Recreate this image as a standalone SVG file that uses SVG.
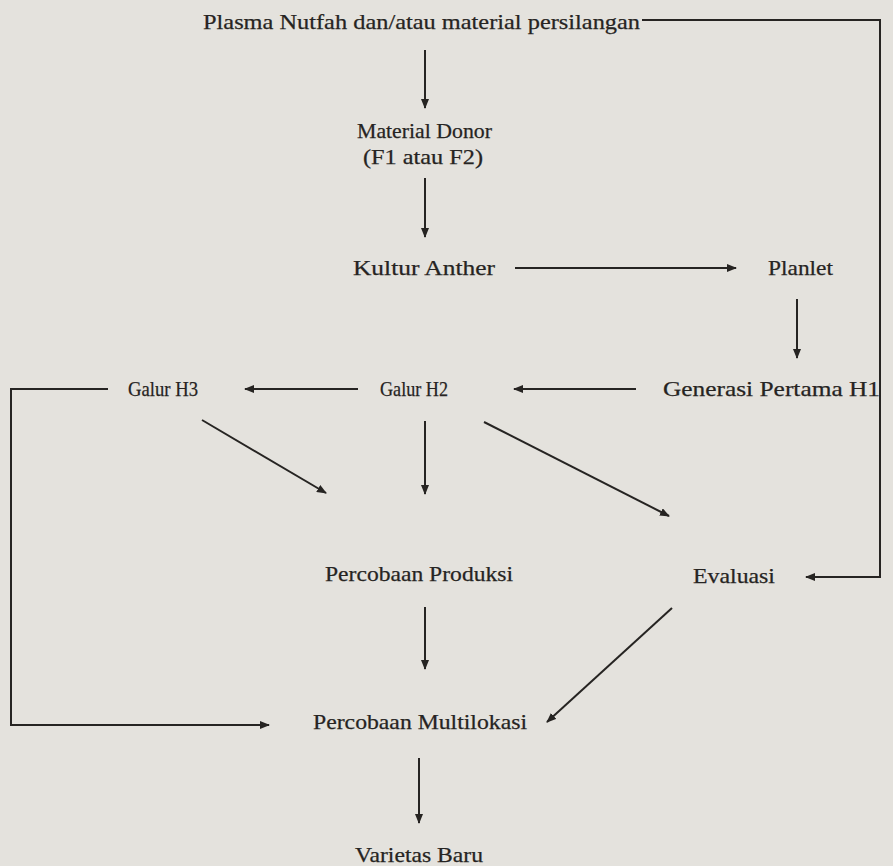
<svg xmlns="http://www.w3.org/2000/svg" width="893" height="866" viewBox="0 0 893 866">
<style>
.t{font-family:"Liberation Serif","Times New Roman",serif;font-size:22px;fill:#262422;stroke:#262422;stroke-width:0.25;}
.c{fill:none;stroke:#262422;stroke-width:2;}
</style>
<defs>
<marker id="ah" viewBox="0 0 10 8" refX="9" refY="4" markerWidth="10" markerHeight="8" markerUnits="userSpaceOnUse" orient="auto">
<path d="M0,0 L10,4 L0,8 Z" fill="#262422"/>
</marker>
</defs>
<rect width="893" height="866" fill="#e4e2dd"/>
<g id="connectors">
<path class="c" d="M642,20 H880 V577 H806" marker-end="url(#ah)"/>
<path class="c" d="M425,50 V108" marker-end="url(#ah)"/>
<path class="c" d="M425,178 V237" marker-end="url(#ah)"/>
<path class="c" d="M515,268 H736" marker-end="url(#ah)"/>
<path class="c" d="M797,299 V358" marker-end="url(#ah)"/>
<path class="c" d="M636,389 H514" marker-end="url(#ah)"/>
<path class="c" d="M358,389 H245" marker-end="url(#ah)"/>
<path class="c" d="M108,389 H11 V725 H269" marker-end="url(#ah)"/>
<path class="c" d="M202,420 L326,493" marker-end="url(#ah)"/>
<path class="c" d="M425,421 V494" marker-end="url(#ah)"/>
<path class="c" d="M484,422 L669,516" marker-end="url(#ah)"/>
<path class="c" d="M425,607 V669" marker-end="url(#ah)"/>
<path class="c" d="M672,608 L547,722" marker-end="url(#ah)"/>
<path class="c" d="M419,758 V823" marker-end="url(#ah)"/>
</g>
<g id="plasma"><text class="t" x="203" y="29" textLength="437" lengthAdjust="spacingAndGlyphs">Plasma Nutfah dan/atau material persilangan</text></g>
<g id="donor"><text class="t" x="357" y="138" textLength="135" lengthAdjust="spacingAndGlyphs">Material Donor</text><text class="t" x="363" y="164" textLength="120" lengthAdjust="spacingAndGlyphs">(F1 atau F2)</text></g>
<g id="kultur"><text class="t" x="353" y="275" textLength="142" lengthAdjust="spacingAndGlyphs">Kultur Anther</text></g>
<g id="planlet"><text class="t" x="768" y="275" textLength="65" lengthAdjust="spacingAndGlyphs">Planlet</text></g>
<g id="h3"><text class="t" x="128" y="396" textLength="70" lengthAdjust="spacingAndGlyphs">Galur H3</text></g>
<g id="h2"><text class="t" x="380" y="396" textLength="68" lengthAdjust="spacingAndGlyphs">Galur H2</text></g>
<g id="h1"><text class="t" x="663" y="396" textLength="217" lengthAdjust="spacingAndGlyphs">Generasi Pertama H1</text></g>
<g id="produksi"><text class="t" x="325" y="581" textLength="188" lengthAdjust="spacingAndGlyphs">Percobaan Produksi</text></g>
<g id="evaluasi"><text class="t" x="693" y="583" textLength="82" lengthAdjust="spacingAndGlyphs">Evaluasi</text></g>
<g id="multilokasi"><text class="t" x="313" y="729" textLength="214" lengthAdjust="spacingAndGlyphs">Percobaan Multilokasi</text></g>
<g id="varietas"><text class="t" x="355" y="862" textLength="128" lengthAdjust="spacingAndGlyphs">Varietas Baru</text></g>
</svg>
